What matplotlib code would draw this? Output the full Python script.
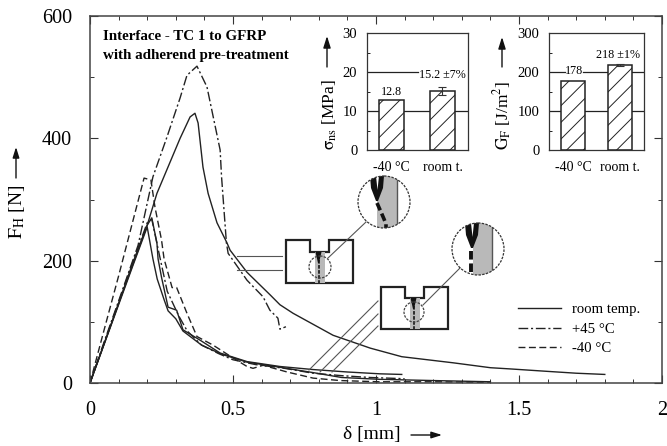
import matplotlib
matplotlib.use("Agg")
import matplotlib.pyplot as plt
from matplotlib.patches import Circle, Rectangle, Polygon

plt.rcParams['font.family'] = ['Liberation Serif', 'DejaVu Serif']
plt.rcParams['mathtext.fontset'] = 'stix'
plt.rcParams['hatch.linewidth'] = 0.7

# ---------- data ----------
room_a_x = [0, 0.10, 0.168, 0.20, 0.234, 0.27, 0.315, 0.35, 0.367, 0.378, 0.395, 0.413, 0.444, 0.479, 0.49, 0.549, 0.63, 0.664, 0.71, 0.85, 0.98, 1.09, 1.27, 1.40, 1.47, 1.60, 1.70, 1.80]
room_a_y = [0, 130, 217, 258, 310, 350, 400, 435, 441, 425, 353, 310, 262, 229, 217, 181, 144, 128, 114, 78, 57, 43, 33, 25, 23, 19, 16, 14]
room_b_x = [0, 0.05, 0.10, 0.15, 0.20, 0.216, 0.234, 0.238, 0.25, 0.273, 0.303, 0.325, 0.385, 0.455, 0.549, 0.664, 0.78, 0.90, 1.014, 1.09]
room_b_y = [0, 65, 130, 197, 258, 270, 229, 203, 173, 124, 119, 87, 70, 49, 35, 27, 22, 18, 15, 14]
room_c_x = [0, 0.05, 0.10, 0.15, 0.20, 0.22, 0.235, 0.26, 0.273, 0.30, 0.325, 0.39, 0.46, 0.55, 0.66, 0.78, 0.88, 1.014, 1.20, 1.40]
room_c_y = [0, 64, 128, 192, 255, 203, 170, 135, 118, 105, 85, 62, 47, 34, 26, 17, 9, 6, 4, 2]
hot_a_x = [0, 0.05, 0.10, 0.168, 0.22, 0.269, 0.315, 0.339, 0.374, 0.409, 0.455, 0.46, 0.477, 0.483, 0.549, 0.605, 0.629, 0.657, 0.664, 0.685]
hot_a_y = [0, 68, 134, 225, 337, 402, 466, 503, 518, 484, 381, 337, 229, 212, 168, 141, 119, 106, 88, 92]
hot_b_x = [0, 0.05, 0.10, 0.15, 0.20, 0.216, 0.24, 0.27, 0.31, 0.34, 0.39, 0.45, 0.50, 0.58, 0.68, 0.78, 0.88, 0.98, 1.10]
hot_b_y = [0, 66, 132, 198, 262, 268, 215, 150, 110, 85, 62, 48, 38, 30, 24, 16, 12, 9, 7]
cold_x = [0, 0.05, 0.10, 0.15, 0.189, 0.213, 0.227, 0.25, 0.259, 0.287, 0.303, 0.339, 0.374, 0.43, 0.50, 0.549, 0.57, 0.605, 0.689, 0.78, 0.874, 1.01, 1.20, 1.40]
cold_y = [0, 88, 175, 265, 335, 332, 288, 234, 203, 156, 156, 114, 76, 62, 41, 27, 24, 29, 18, 8, 4, 2, 2, 1]

cats = ['-40 °C', 'room t.']
sigma_vals = [12.8, 15.2]
sigma_err = [0, 1.06]
sigma_labels = ['12.8', '15.2 ±7%']
gf_vals = [178, 218]
gf_err = [0, 2.2]
gf_labels = ['178', '218 ±1%']

W, H = 667, 446
def rect(l, t, r, b):
    return [l / W, 1 - b / H, (r - l) / W, (b - t) / H]

fig = plt.figure(figsize=(W / 100, H / 100), dpi=100, facecolor='white')

# ---------- main axes ----------
ax = fig.add_axes(rect(90, 16, 662, 383))
ax.plot(room_a_x, room_a_y, color='#222222', lw=1.0, label='room temp.')
ax.plot(room_b_x, room_b_y, color='#222222', lw=1.0)
ax.plot(room_c_x, room_c_y, color='#222222', lw=1.0)
ax.plot(hot_a_x, hot_a_y, color='#222222', lw=1.0, dashes=(7, 2, 1.5, 2), label='+45 °C')
ax.plot(hot_b_x, hot_b_y, color='#222222', lw=1.0, dashes=(7, 2, 1.5, 2))
ax.plot(cold_x, cold_y, color='#222222', lw=1.0, dashes=(5, 2.5), label='-40 °C')
ax.set_xlim(0, 2)
ax.set_ylim(0, 600)
ax.set_xticks([0, 0.5, 1, 1.5, 2])
ax.set_xticklabels(['0', '0.5', '1', '1.5', '2'])
ax.set_xticks([i / 10 for i in range(21)], minor=True)
ax.set_yticks([0, 200, 400, 600])
ax.set_yticks([100, 300, 500], minor=True)
ax.tick_params(which='major', direction='in', length=6, width=0.8, top=True, right=True, labelsize=14.5, pad=13, color='#333333')
ax.tick_params(which='minor', direction='in', length=3, width=0.7, top=True, right=True, color='#333333')
for s in ax.spines.values():
    s.set_linewidth(1.1)
    s.set_color('#444444')
leg = ax.legend(loc='upper left', bbox_to_anchor=(0.748, 0.218), frameon=False, fontsize=10.6,
                handlelength=2.95, labelspacing=0.42, handletextpad=0.75, borderpad=0, borderaxespad=0)

# ---------- overlay in pixel coordinates ----------
ov = fig.add_axes([0, 0, 1, 1], zorder=3)
ov.set_xlim(0, W)
ov.set_ylim(H, 0)
ov.axis('off')
ov.patch.set_alpha(0)

ov.text(103, 36, 'Interface - TC 1 to GFRP', fontsize=10.8, fontweight='bold', va='center', ha='left')
ov.text(103, 56, 'with adherend pre-treatment', fontsize=10.8, fontweight='bold', va='center', ha='left')
ov.text(17, 212, r'$\mathrm{F_H}$ [N]', fontsize=14, rotation=90, va='center', ha='center')
ov.text(372, 435, 'δ [mm]', fontsize=14, va='center', ha='center')
ov.text(330, 115, r'$\mathrm{\sigma_{ns}}$ [MPa]', fontsize=12.5, rotation=90, va='center', ha='center')
ov.text(503, 115, r'$\mathrm{G_F}$ [J/m$^2$]', fontsize=12.5, rotation=90, va='center', ha='center')

def arrow(x0, y0, x1, y1, lw=1.0, ms=9):
    ov.annotate('', xy=(x1, y1), xytext=(x0, y0),
                arrowprops=dict(arrowstyle='-|>,head_width=0.22,head_length=0.7', color='#111111', lw=lw, shrinkA=0, shrinkB=0, mutation_scale=ms))

arrow(16, 178, 16, 147)
arrow(411, 435, 442, 435)
arrow(327, 67, 327, 36, ms=10)
arrow(502, 67, 502, 37, ms=10)

def diagram(l, t, r, b, nl, nr, nb, cx, cy, cr, bx, by, br, kinked):
    pts = [(l, t), (nl, t), (nl, nb), (nr, nb), (nr, t), (r, t), (r, b), (l, b)]
    mid = (nl + nr) / 2
    ov.add_patch(Polygon(pts, closed=True, fc='white', ec='#222222', lw=1.6, zorder=2))
    ov.add_patch(Rectangle((mid - 5, nb), 10, b - nb, fc='#b9b9b9', ec='none', zorder=2.1))
    ov.plot([mid - 1, mid - 1], [nb + 8, b], color='#222222', lw=1.3, dashes=(2, 0.8), zorder=2.2)
    ov.add_patch(Polygon([(mid - 4, nb), (mid + 2, nb), (mid - 0.5, nb + 11), (mid - 1.5, nb + 11)],
                         closed=True, fc='#111111', ec='none', zorder=2.3))
    ov.add_patch(Circle((cx, cy), cr, fc='none', ec='#444444', lw=0.9, ls=(0, (2, 1)), zorder=2.4))
    # magnified view
    clip = Circle((bx, by), br, transform=ov.transData)
    gx = bx - 7 if kinked else bx - 5
    ge = bx + 13 if kinked else bx + 14
    g = ov.add_patch(Rectangle((gx, by - br), ge - gx, 2 * br, fc='#b9b9b9', ec='none', zorder=2.5))
    g.set_clip_path(clip)
    e = ov.plot([ge, ge], [by - br, by + br], color='#555555', lw=1.0, zorder=2.6)[0]
    e.set_clip_path(clip)
    dx = 0 if kinked else 1
    v = Polygon([(bx - 14 + dx, by - br), (bx - 13 + dx, by - 14), (bx - 8 + dx, by - 1), (bx - 6 + dx, by - 1),
                 (bx + dx - 1, by - 14), (bx + dx, by - br)],
                closed=True, fc='#111111', ec='none', zorder=2.7)
    ov.add_patch(v)
    v.set_clip_path(clip)
    w = Polygon([(bx - 8 + dx, by - br), (bx - 6.5 + dx, by - 12), (bx - 5 + dx, by - br)],
                closed=True, fc='white', ec='none', zorder=2.75)
    ov.add_patch(w)
    w.set_clip_path(clip)
    if kinked:
        c = ov.plot([bx - 7, bx - 3, bx, bx + 2, bx + 2], [by + 1, by + 10, by + 17, by + 22, by + br],
                    color='#111111', lw=2.6, dashes=(2.2, 1), zorder=2.7)[0]
    else:
        c = ov.plot([bx - 7, bx - 7], [by + 2, by + br], color='#111111', lw=2.8, dashes=(2.2, 1), zorder=2.7)[0]
    c.set_clip_path(clip)
    ov.add_patch(Circle((bx, by), br, fc='none', ec='#333333', lw=0.9, ls=(0, (2, 1)), zorder=2.8))

# lead lines
for y in (256, 270):
    ov.plot([237, 282], [y, y], color='#555555', lw=0.8)
for x0, y0, y1 in ((309, 370, 301), (320, 372, 314), (332, 372, 326)):
    ov.plot([x0, 378], [y0, y1], color='#555555', lw=0.8)
ov.plot([328, 366], [258, 222], color='#555555', lw=0.8, zorder=2.35)
ov.plot([423, 460], [305, 268], color='#555555', lw=0.8, zorder=2.35)

diagram(286, 240, 353, 283, 310, 329, 252, 320, 267, 11, 384, 202, 26, True)
diagram(381, 287, 448, 329, 405, 424, 298, 414, 312, 10, 478, 249, 26, False)

# ---------- insets ----------
def inset(box, vals, errs, labels, ymax, step, minor, xlim, label_pos, bar_w, grid_runs):
    a = fig.add_axes(rect(*box), zorder=2)
    a.patch.set_alpha(0)
    for v, xs in grid_runs:
        a.plot(xs, [v, v], color='#222222', lw=0.9, zorder=1)
    a.bar([0, 1], vals, width=bar_w, fc='white', ec='#222222', lw=1.1, hatch='//', zorder=2)
    a.errorbar([1], [vals[1]], yerr=[errs[1]], color='#333333', lw=0.8, capsize=3, capthick=0.8, zorder=3)
    a.set_xlim(*xlim)
    a.set_ylim(0, ymax)
    a.set_xticks([0, 1])
    a.set_xticklabels(cats)
    a.set_yticks([i * step for i in range(4)])
    a.set_yticks(minor, minor=True)
    a.tick_params(axis='x', length=0, labelsize=10, pad=8)
    a.tick_params(axis='y', which='major', direction='in', length=0, labelsize=10.5, pad=7)
    a.tick_params(axis='y', which='minor', direction='in', length=2, width=0.6)
    for s in a.spines.values():
        s.set_linewidth(0.9)
        s.set_color('#333333')
    for (x, y), t in zip(label_pos, labels):
        a.text(x, y, t, fontsize=8.7, ha='center', va='center', zorder=4)
    return a

sx = (-0.48, 1.5)
gx = (-0.51, 1.51)
inset((367, 33, 468, 150), sigma_vals, sigma_err, sigma_labels, 30, 10, [5, 15, 25], sx,
      [(0, 14.9), (1.0, 19.2)], 0.49,
      [(10, list(sx)), (20, [sx[0], 0.52])])
inset((549, 33, 644, 150), gf_vals, gf_err, gf_labels, 300, 100, [50, 150, 250], gx,
      [(0.02, 202), (0.96, 243)], 0.51,
      [(100, list(gx)), (200, [gx[0], -0.17]), (200, [0.21, gx[1]])])

fig.savefig('out.png', dpi=100)
